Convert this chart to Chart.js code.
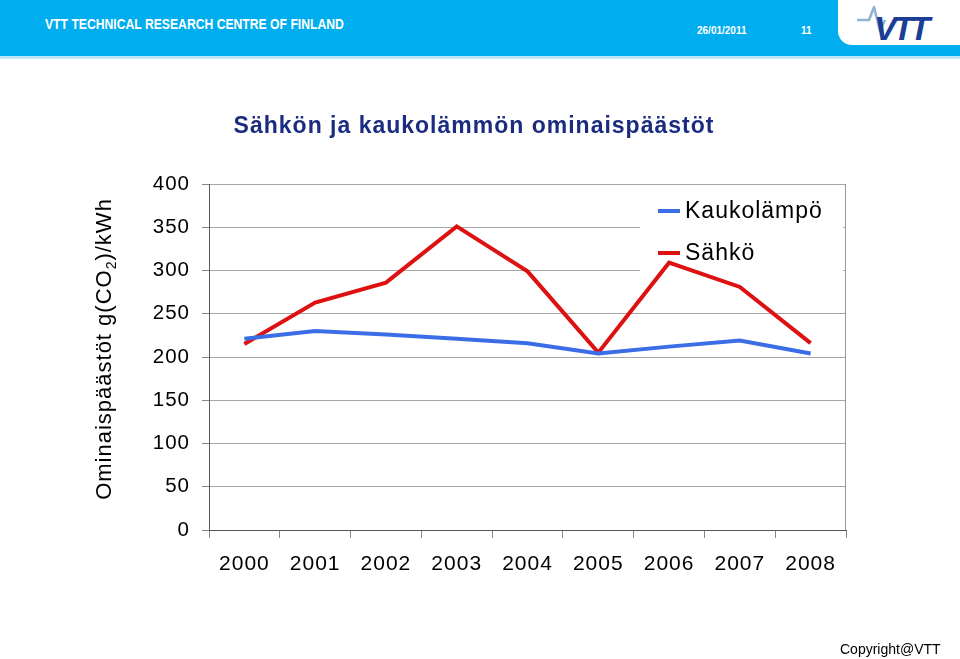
<!DOCTYPE html>
<html>
<head>
<meta charset="utf-8">
<script src="https://cdn.jsdelivr.net/npm/chart.js@4"></script>
<style>
  html, body { margin: 0; padding: 0; background: #fff; }
  #page { position: relative; width: 960px; height: 659px; overflow: hidden; font-family: 'Liberation Sans', Arial, sans-serif; }
  #bar { position: absolute; left: 0; top: 0; width: 960px; height: 56px; background: #00aeef; border-bottom: 3px solid #bfe7f8; }
  #logoBox { position: absolute; left: 838px; top: 0; width: 122px; height: 45px; background: #fff; border-bottom-left-radius: 14px; }
  #org { position: absolute; left: 45px; top: 16px; color: #fff; font-weight: bold; font-size: 14px; transform: scaleX(0.87); transform-origin: left top; white-space: nowrap; }
  #date { position: absolute; left: 697px; top: 25px; color: #fff; font-weight: bold; font-size: 10px; }
  #num { position: absolute; left: 801px; top: 25px; color: #fff; font-weight: bold; font-size: 10px; }
  #vtt { position: absolute; left: 874px; top: 11px; color: #1b3e94; font-weight: 900; font-style: italic; font-size: 34px; letter-spacing: -4px; line-height: 34px; }
  #sig { position: absolute; left: 850px; top: 0; }
  #copy { position: absolute; left: 840px; top: 641px; font-size: 14px; color: #000; }
  #c { position: absolute; left: 0; top: 0; }
</style>
</head>
<body>
<div id="page">
  <div id="bar"></div>
  <div id="logoBox"></div>
  <div id="org">VTT TECHNICAL RESEARCH CENTRE OF FINLAND</div>
  <div id="date">26/01/2011</div>
  <div id="num">11</div>
  <svg id="sig" width="45" height="40"><polyline points="7,20 19,20 24,7 30,31 35,20" fill="none" stroke="#8fb3d3" stroke-width="2.5" stroke-linejoin="round"/></svg>
  <div id="vtt">VTT</div>
  <canvas id="c" width="960" height="659"></canvas>
  <div id="copy">Copyright@VTT</div>
</div>
<script>
var years = ['2000', '2001', '2002', '2003', '2004', '2005', '2006', '2007', '2008'];
var kaukolampo = [221, 230, 226, 221, 216, 204, 212, 219, 204];
var sahko = [215, 263, 286, 351, 299, 205, 309, 281, 216];
var seriesNames = ['Kaukolämpö', 'Sähkö'];
var seriesColors = ['#3b6ee6', '#dd1111'];

var font = "'Liberation Sans', Arial, sans-serif";

// legend box + right border + y title, drawn on top of the scales
var extras = {
    id: 'extras',
    beforeDraw: function(chart) {
        chart.ctx.letterSpacing = '1px';
    },
    beforeDatasetsDraw: function(chart) {
        var a = chart.chartArea, ctx = chart.ctx;
        ctx.save();
        // right border
        ctx.strokeStyle = '#999';
        ctx.lineWidth = 1;
        ctx.beginPath();
        ctx.moveTo(a.right - 0.5, a.top);
        ctx.lineTo(a.right - 0.5, a.bottom);
        ctx.stroke();
        // legend background hides the grid
        ctx.fillStyle = '#fff';
        ctx.fillRect(a.right - 206, a.top + 4, 203, 88);
        ctx.restore();
    },
    afterDatasetsDraw: function(chart) {
        var a = chart.chartArea, ctx = chart.ctx;
        ctx.save();
        ctx.font = '23px ' + font;
        ctx.textBaseline = 'middle';
        ctx.fillStyle = '#000';
        for (var i = 0; i < seriesNames.length; i++) {
            var y = a.top + 27 + i * 42;
            ctx.strokeStyle = seriesColors[i];
            ctx.lineWidth = 4;
            ctx.beginPath();
            ctx.moveTo(a.right - 188, y);
            ctx.lineTo(a.right - 166, y);
            ctx.stroke();
            ctx.fillText(seriesNames[i], a.right - 161, y + 1);
        }
        // y axis title with subscript
        ctx.translate(105, (a.top + a.bottom) / 2 - 8);
        ctx.rotate(-Math.PI / 2);
        var p1 = 'Ominaispäästöt g(CO', p2 = '2', p3 = ')/kWh';
        ctx.font = '22px ' + font;
        var w1 = ctx.measureText(p1).width, w3 = ctx.measureText(p3).width;
        ctx.font = '14px ' + font;
        var w2 = ctx.measureText(p2).width;
        var x = -(w1 + w2 + w3) / 2;
        ctx.textAlign = 'left';
        ctx.font = '22px ' + font;
        ctx.fillText(p1, x, 0);
        ctx.font = '14px ' + font;
        ctx.fillText(p2, x + w1, 7);
        ctx.font = '22px ' + font;
        ctx.fillText(p3, x + w1 + w2, 0);
        ctx.restore();
    },
    afterDraw: function(chart) {
        chart.ctx.letterSpacing = '0px';
    }
};

new Chart(document.getElementById('c'), {
    type: 'line',
    data: {
        labels: years,
        datasets: [
            { label: seriesNames[0], data: kaukolampo, borderColor: seriesColors[0], borderWidth: 4, pointRadius: 0, tension: 0 },
            { label: seriesNames[1], data: sahko, borderColor: seriesColors[1], borderWidth: 4, pointRadius: 0, tension: 0 }
        ]
    },
    options: {
        responsive: false,
        animation: false,
        devicePixelRatio: 1,
        layout: { padding: { left: 0, right: 12, top: 0, bottom: 0 } },
        plugins: {
            legend: { display: false },
            tooltip: { enabled: false },
            title: {
                display: true,
                text: 'Sähkön ja kaukolämmön ominaispäästöt',
                color: '#1a2b80',
                font: { family: font, size: 23, weight: 'bold' },
                padding: { top: 112.4, bottom: 44.0 }
            }
        },
        scales: {
            x: {
                offset: true,
                afterFit: function(s) { s.height = 129; },
                grid: { offset: true, drawOnChartArea: false, tickLength: 8, color: '#888' },
                border: { color: '#555', width: 1 },
                ticks: { color: '#000', padding: 14, maxRotation: 0, font: { family: font, size: 21 } }
            },
            y: {
                min: 0,
                max: 400,
                afterFit: function(s) { s.width = 209; },
                grid: { color: '#a6a6a6', tickLength: 7, tickColor: '#888' },
                border: { color: '#555', width: 1 },
                ticks: { stepSize: 50, color: '#000', padding: 12, font: { family: font, size: 20.5 } }
            },
            right: {
                position: 'right',
                afterFit: function(s) { s.width = 102; },
                grid: { display: false },
                border: { display: false },
                ticks: { display: false }
            }
        }
    },
    plugins: [extras]
});
</script>
</body>
</html>
